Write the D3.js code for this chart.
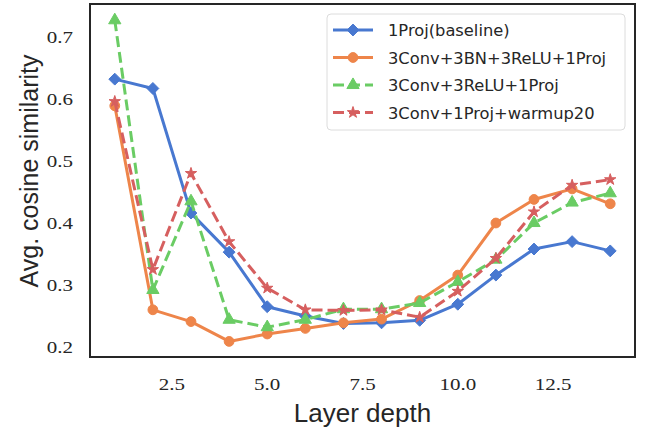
<!DOCTYPE html>
<html>
<head>
<meta charset="utf-8">
<script src="https://cdn.jsdelivr.net/npm/d3@7"></script>
<style>
  body { margin: 0; background: #fff; }
  svg { display: block; }
</style>
</head>
<body>
<svg id="chart" width="647" height="429"></svg>
<script>
// data
const depth = [1, 2, 3, 4, 5, 6, 7, 8, 9, 10, 11, 12, 13, 14]
const baseline = [0.632, 0.617, 0.416, 0.353, 0.265, 0.250, 0.238, 0.239, 0.243, 0.269, 0.316, 0.358, 0.370, 0.355]
const convBnRelu = [0.589, 0.260, 0.241, 0.209, 0.221, 0.230, 0.239, 0.245, 0.275, 0.316, 0.400, 0.438, 0.455, 0.431]
const convRelu = [0.727, 0.292, 0.435, 0.244, 0.232, 0.244, 0.261, 0.261, 0.271, 0.305, 0.341, 0.400, 0.433, 0.448]
const convWarmup = [0.596, 0.325, 0.480, 0.370, 0.295, 0.260, 0.259, 0.260, 0.248, 0.290, 0.343, 0.418, 0.461, 0.470]
const seriesNames = ['1Proj(baseline)', '3Conv+3BN+3ReLU+1Proj', '3Conv+3ReLU+1Proj', '3Conv+1Proj+warmup20']
const xTicks = [2.5, 5.0, 7.5, 10.0, 12.5]
const yTicks = [0.2, 0.3, 0.4, 0.5, 0.6, 0.7]

const series = [
  { name: seriesNames[0], values: baseline, color: '#4878d0', dash: null, symbol: d3.symbolDiamond2, size: 90 },
  { name: seriesNames[1], values: convBnRelu, color: '#ee854a', dash: null, symbol: d3.symbolCircle, size: 75 },
  { name: seriesNames[2], values: convRelu, color: '#6acc64', dash: '11,5', symbol: d3.symbolTriangle, size: 65 },
  { name: seriesNames[3], values: convWarmup, color: '#d65f5f', dash: '11,5', symbol: d3.symbolStar, size: 40 }
]

const margin = { top: 4, left: 90, right: 12, bottom: 72 }
const width = 647 - margin.left - margin.right
const height = 429 - margin.top - margin.bottom

const svg = d3.select('#chart')
const g = svg.append('g').attr('transform', 'translate(' + margin.left + ',' + margin.top + ')')

const xScale = d3.scaleLinear().domain([0.35, 14.65]).range([0, width])
const yScale = d3.scaleLinear().domain([0.1839, 0.7532]).range([height, 0])

// tick labels (no tick marks); the source figure is stretched sideways a bit
g.append('g')
  .selectAll('text')
  .data(xTicks)
  .join('text')
  .attr('transform', d => 'translate(' + xScale(d) + ',' + (height + 33) + ') scale(1.2,1)')
  .attr('text-anchor', 'middle')
  .attr('font-family', 'Liberation Serif, serif')
  .attr('font-size', 17.5)
  .attr('fill', '#262626')
  .text(d3.format('.1f'))

g.append('g')
  .selectAll('text')
  .data(yTicks)
  .join('text')
  .attr('transform', d => 'translate(-17,' + (yScale(d) + 6) + ') scale(1.2,1)')
  .attr('text-anchor', 'end')
  .attr('font-family', 'Liberation Serif, serif')
  .attr('font-size', 17.5)
  .attr('fill', '#262626')
  .text(d3.format('.1f'))

// lines
const line = d3.line()
  .x((d, i) => xScale(depth[i]))
  .y(d => yScale(d))

series.forEach(s => {
  g.append('path')
    .datum(s.values)
    .attr('d', line)
    .attr('fill', 'none')
    .attr('stroke', s.color)
    .attr('stroke-width', 3)
    .attr('stroke-dasharray', s.dash)
    .attr('stroke-linejoin', 'round')

  g.append('g')
    .selectAll('path')
    .data(s.values)
    .join('path')
    .attr('transform', (d, i) => 'translate(' + xScale(depth[i]) + ',' + yScale(d) + ')')
    .attr('d', d3.symbol().type(s.symbol).size(s.size))
    .attr('fill', s.color)
    .attr('stroke', s.color)
    .attr('stroke-width', 1)
})

// frame
g.append('rect')
  .attr('width', width)
  .attr('height', height)
  .attr('fill', 'none')
  .attr('stroke', '#262626')
  .attr('stroke-width', 2)

// legend
const legend = g.append('g').attr('transform', 'translate(' + (327 - margin.left) + ',' + (14 - margin.top) + ')')
legend.append('rect')
  .attr('width', 298)
  .attr('height', 116)
  .attr('rx', 4)
  .attr('fill', 'rgba(255,255,255,0.8)')
  .attr('stroke', '#dcdcdc')
  .attr('stroke-width', 1)

series.forEach((s, i) => {
  const y = 16 + i * 27.5
  legend.append('line')
    .attr('x1', 6)
    .attr('x2', 46)
    .attr('y1', y)
    .attr('y2', y)
    .attr('stroke', s.color)
    .attr('stroke-width', 3)
    .attr('stroke-dasharray', s.dash)
  legend.append('path')
    .attr('transform', 'translate(26,' + y + ')')
    .attr('d', d3.symbol().type(s.symbol).size(s.size))
    .attr('fill', s.color)
    .attr('stroke', s.color)
  legend.append('text')
    .attr('x', 61)
    .attr('y', y + 6)
    .attr('font-family', 'DejaVu Sans, sans-serif')
    .attr('font-size', 16.3)
    .attr('fill', '#262626')
    .text(s.name)
})

// axis titles
svg.append('text')
  .attr('x', margin.left + width / 2)
  .attr('y', 422)
  .attr('text-anchor', 'middle')
  .attr('font-family', 'Liberation Sans, sans-serif')
  .attr('font-size', 26)
  .attr('fill', '#262626')
  .text('Layer depth')

svg.append('text')
  .attr('transform', 'translate(38,171) rotate(-90)')
  .attr('text-anchor', 'middle')
  .attr('font-family', 'Liberation Sans, sans-serif')
  .attr('font-size', 25)
  .attr('fill', '#262626')
  .text('Avg. cosine similarity')
</script>
</body>
</html>
